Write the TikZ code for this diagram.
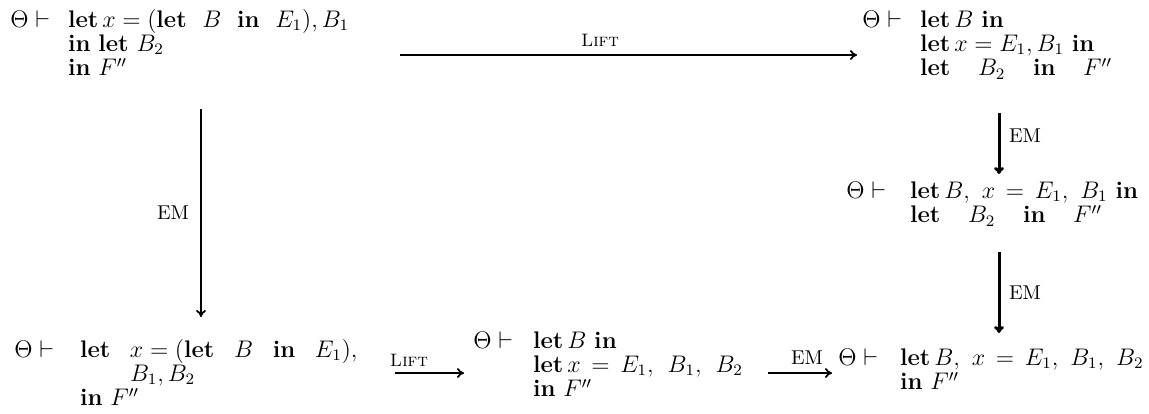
\documentclass[tikz,border=0pt]{standalone}
\usetikzlibrary{arrows.meta}
\newcommand{\kw}[1]{\textbf{#1}}
\newcommand{\wgap}{\ \ \hspace{6pt}}
\newcommand{\cg}{\hspace{4pt}}
\newcommand{\weq}{\hspace{2pt}=\hspace{2pt}}
\begin{document}
\begin{tikzpicture}[x=0.5pt,y=-0.5pt,
  judg/.style={anchor=base west, inner sep=0pt, font=\fontsize{12pt}{12pt}\selectfont},
  arr/.style={-{To[length=3.5pt,width=5pt]}, line width=0.9pt},
  tarr/.style={-{To[length=3.5pt,width=5pt]}, line width=1.5pt},
  lab/.style={inner sep=0pt}]
\useasboundingbox (0,0) rectangle (1149,413);
% judgements
\node[judg] (n1) at (10,27) {\begin{tabular}[t]{@{}l@{\hspace{9pt}}l@{}}
 $\Theta\vdash$ & $\kw{let}\,x = (\kw{let}\ \ B\ \ \kw{in}\ \ E_1), B_1$\\
 & $\kw{in}\ \kw{let}\ B_2$\\
 & $\kw{in}\ F''$\end{tabular}};
\node[judg] (n2) at (862,27) {\begin{tabular}[t]{@{}l@{\hspace{9pt}}l@{}}
 $\Theta\vdash$ & $\kw{let}\,B\ \kw{in}$\\
 & $\kw{let}\,x = E_1, B_1\ \kw{in}$\\
 & $\kw{let}\wgap B_2\wgap\kw{in}\wgap F''$\end{tabular}};
\node[judg] (n3) at (846,198) {\begin{tabular}[t]{@{}l@{\hspace{12pt}}l@{}}
 $\Theta\vdash$ & $\kw{let}\,B,\cg x\weq E_1,\cg B_1\ \kw{in}$\\
 & $\kw{let}\wgap B_2\wgap\kw{in}\wgap F''$\end{tabular}};
\node[judg] (n4) at (14,357) {\begin{tabular}[t]{@{}l@{\hspace{13pt}}l@{}}
 $\Theta\vdash$ & $\kw{let}\ \ \,x = (\kw{let}\ \ \,B\ \ \,\kw{in}\ \ \,E_1),$\\
 & \hspace*{25pt}$B_1, B_2$\\
 & $\kw{in}\ F''$\end{tabular}};
\node[judg] (n5) at (473,348) {\begin{tabular}[t]{@{}l@{\hspace{10pt}}l@{}}
 $\Theta\vdash$ & $\kw{let}\,B\ \kw{in}$\\
 & $\kw{let}\,x\weq E_1,\hspace{5pt} B_1,\hspace{5pt} B_2$\\
 & $\kw{in}\ F''$\end{tabular}};
\node[judg] (n6) at (838,365) {\begin{tabular}[t]{@{}l@{\hspace{11pt}}l@{}}
 $\Theta\vdash$ & $\kw{let}\,B,\cg x\weq E_1,\cg B_1,\cg B_2$\\
 & $\kw{in}\ F''$\end{tabular}};
% connector end points
\coordinate (a1s) at (400,55);  \coordinate (a1e) at (857,55);
\coordinate (a2s) at (201,109); \coordinate (a2e) at (201,317);
\coordinate (a3s) at (999,113); \coordinate (a3e) at (999,174);
\coordinate (a4s) at (999,252); \coordinate (a4e) at (999,333);
\coordinate (a5s) at (395,373); \coordinate (a5e) at (464,373);
\coordinate (a6s) at (768,373); \coordinate (a6e) at (832,373);
\draw[arr] (a1s) -- (a1e);
\draw[arr] (a2s) -- (a2e);
\draw[tarr] (a3s) -- (a3e);
\draw[tarr] (a4s) -- (a4e);
\draw[arr] (a5s) -- (a5e);
\draw[arr] (a6s) -- (a6e);
% labels
\node[lab, font=\small] (l1) at (600,40) {\textsc{Lift}};
\node[lab] (l2) at (173,213) {EM};
\node[lab] (l3) at (1025,136) {EM};
\node[lab] (l4) at (1025,293) {EM};
\node[lab, font=\small] (l5) at (409,360) {\textsc{Lift}};
\node[lab] (l6) at (807,358) {EM};
\end{tikzpicture}
\end{document}
